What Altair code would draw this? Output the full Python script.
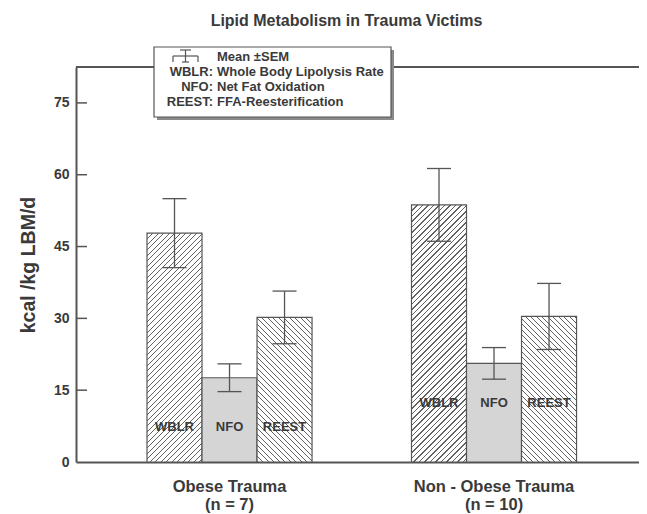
import altair as alt
import pandas as pd

# ---------------- data ----------------
groups = ["Obese Trauma", "Non - Obese Trauma"]
group_n = ["(n = 7)", "(n = 10)"]
series = ["WBLR", "NFO", "REEST"]
mean_obese = [47.8, 17.6, 30.2]
sem_obese = [7.2, 2.9, 5.5]
mean_nonobese = [53.7, 20.6, 30.4]
sem_nonobese = [7.6, 3.3, 6.9]
y_ticks = [0, 15, 30, 45, 60, 75]
legend_abbr = ["", "WBLR:", "NFO:", "REEST:"]
legend_desc = ["Mean \u00b1SEM", "Whole Body Lipolysis Rate",
               "Net Fat Oxidation", "FFA-Reesterification"]
title_text = "Lipid Metabolism in Trauma Victims"
y_title = "kcal /kg LBM/d"

# height (data units) at which the in-bar labels sit, per group
label_level = [7.3, 12.3]

# ---------------- layout / style ----------------
FONT = "Liberation Sans"
INK = "#555555"
TXT = "#3a3a3a"
W, H = 563, 395
YMAX = 82.5
PAD = {"left": 68, "top": 59, "right": 0, "bottom": 52}
P_IN, P_OUT, ALIGN = 0.376, 0.2523, 0.532

group_keys = [f"{g}|{n}" for g, n in zip(groups, group_n)]
rows = []
for gk, means, sems, lvl in zip(group_keys, [mean_obese, mean_nonobese],
                                [sem_obese, sem_nonobese], label_level):
    for s, m, e in zip(series, means, sems):
        rows.append({"group": gk, "series": s, "mean": m, "sem": e, "lab": lvl})
df = pd.DataFrame(rows)
one = pd.DataFrame({"k": [0]})
tick_df = pd.DataFrame({"v": y_ticks[1:]})

step = W / (2 - P_IN + 2 * P_OUT)
BAR_W = step * (1 - P_IN) / 3
PX = H / YMAX


def hatch(value, direction, period=5.5, lw=1.25, ink="#626262", paper="#ffffff"):
    w = BAR_W
    h = value * PX
    r = h / w
    T = w * (1 + r * r)
    stops = []
    a = 0.0
    while a / T < 1.0:
        b = a + lw
        for off, col in ((a, ink), (b, ink), (b, paper), (a + period, paper)):
            stops.append(alt.GradientStop(offset=min(off / T, 1.0), color=col))
        a += period
    if direction == "/":
        return alt.LinearGradient(gradient="linear", stops=stops,
                                  x1=0, y1=0, x2=1, y2=r)
    return alt.LinearGradient(gradient="linear", stops=stops,
                              x1=0, y1=1, x2=1, y2=1 - r)


y_scale = alt.Scale(domain=[0, YMAX], nice=False, zero=True)
x_scale = alt.Scale(domain=group_keys, paddingInner=P_IN, paddingOuter=P_OUT, align=ALIGN)
off_scale = alt.Scale(domain=series, paddingInner=0, paddingOuter=0)

y_axis = alt.Axis(values=y_ticks, ticks=False, tickSize=0, grid=False,
                  domainColor=INK, domainWidth=2,
                  labelFont=FONT, labelFontSize=14, labelFontWeight="bold",
                  labelColor=TXT, labelPadding=7,
                  titleFont=FONT, titleFontSize=19.5, titleFontWeight="bold",
                  titleColor=TXT, titleAngle=270, titleX=-48, titleY=H / 2,
                  titleAlign="center", titleBaseline="middle")
x_axis = alt.Axis(labelExpr="split(datum.label, '|')", labelAngle=0,
                  ticks=False, tickSize=0, grid=False,
                  domainColor=INK, domainWidth=2,
                  labelFont=FONT, labelFontSize=16.5, labelFontWeight="bold",
                  labelColor=TXT, labelPadding=16, labelLineHeight=18,
                  labelBaseline="top")


def X():
    return alt.X("group:N", scale=x_scale, axis=x_axis, title=None)


def XO():
    return alt.XOffset("series:N", scale=off_scale)


def Y(field):
    return alt.Y(field, scale=y_scale, axis=y_axis, title=y_title)


base = alt.Chart(df)

layers = []
# top frame line
layers.append(alt.Chart(one).mark_rule(color=INK, strokeWidth=2).encode(y=alt.value(0)))

# bars
for gk, means in zip(group_keys, [mean_obese, mean_nonobese]):
    for s, m in zip(series, means):
        if s == "NFO":
            fill = "#d5d5d5"
        elif s == "WBLR":
            fill = hatch(m, "/")
        else:
            fill = hatch(m, "\\")
        layers.append(
            base.transform_filter((alt.datum.group == gk) & (alt.datum.series == s))
            .mark_bar(fill=fill, stroke=INK, strokeWidth=1.2)
            .encode(x=X(), xOffset=XO(), y=Y("mean:Q"))
        )

err = base.transform_calculate(low="datum.mean - datum.sem", high="datum.mean + datum.sem")
layers.append(err.mark_rule(color=INK, strokeWidth=1.3)
              .encode(x=X(), xOffset=XO(), y=Y("low:Q"), y2="high:Q"))
layers.append(err.mark_tick(color=INK, size=24, thickness=1.3, opacity=1)
              .encode(x=X(), xOffset=XO(), y=Y("high:Q")))
layers.append(err.mark_tick(color=INK, size=24, thickness=1.3, opacity=1)
              .encode(x=X(), xOffset=XO(), y=Y("low:Q")))

# in-bar labels
layers.append(base.mark_text(font=FONT, fontSize=13, fontWeight="bold", color=TXT,
                             baseline="middle")
              .encode(x=X(), xOffset=XO(), y=Y("lab:Q"), text="series:N"))

# inward y ticks
layers.append(alt.Chart(tick_df).mark_rule(color=INK, strokeWidth=1.5)
              .encode(y=Y("v:Q"), x=alt.value(0), x2=alt.value(11)))

# chart title
layers.append(alt.Chart(one).mark_text(font=FONT, fontSize=16, fontWeight="bold",
                                       color=TXT, align="center", baseline="alphabetic")
              .encode(x=alt.value(270.5), y=alt.value(-41), text=alt.value(title_text)))

# legend box
layers.append(alt.Chart(one).mark_rect(fill="#8a8a8a")
              .encode(x=alt.value(81), x2=alt.value(318), y=alt.value(-17), y2=alt.value(53)))
layers.append(alt.Chart(one).mark_rect(fill="white", stroke=INK, strokeWidth=1.2)
              .encode(x=alt.value(78), x2=alt.value(315), y=alt.value(-20), y2=alt.value(50)))
layers.append(alt.Chart(one).mark_text(align="right", baseline="middle", font=FONT,
                                       fontSize=13, fontWeight="bold", color=TXT,
                                       lineHeight=15)
              .encode(x=alt.value(137), y=alt.value(-10), text=alt.value(legend_abbr)))
layers.append(alt.Chart(one).mark_text(align="left", baseline="middle", font=FONT,
                                       fontSize=13, fontWeight="bold", color=TXT,
                                       lineHeight=15)
              .encode(x=alt.value(141), y=alt.value(-10), text=alt.value(legend_desc)))


# legend error-bar glyph
def seg(x1, y1, x2, y2):
    return (alt.Chart(one).mark_rule(color=INK, strokeWidth=1.2)
            .encode(x=alt.value(x1), y=alt.value(y1), x2=alt.value(x2), y2=alt.value(y2)))


layers += [seg(97, -11, 122, -11), seg(97, -11, 97, -5), seg(122, -11, 122, -5),
           seg(109.5, -17, 109.5, -5), seg(104, -17, 115, -17), seg(106, -5, 113, -5)]

chart = (
    alt.layer(*layers)
    .properties(
        width=W, height=H,
        padding=PAD,
        autosize=alt.AutoSizeParams(type="none"),
        background="white",
    )
    .configure_view(strokeWidth=0)
)

chart.save("out.html", embed_options={"renderer": "svg", "actions": False})
